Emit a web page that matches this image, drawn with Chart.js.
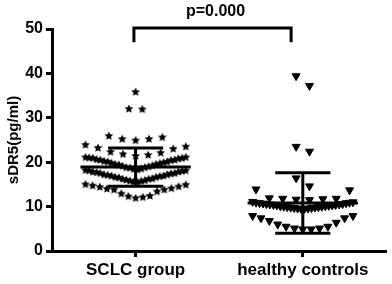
<!DOCTYPE html>
<html>
<head>
<meta charset="utf-8">
<script src="https://cdn.jsdelivr.net/npm/chart.js@4.4.1/dist/chart.umd.min.js"></script>
<style>
  html, body { margin: 0; padding: 0; background: #fff; }
  #wrap { width: 392px; height: 284px; }
</style>
</head>
<body>
<div id="wrap"><canvas id="myChart"></canvas></div>
<script>
const categories = ['SCLC group', 'healthy controls'];
const yTicks = [0, 10, 20, 30, 40, 50];

// sDR5 (pg/ml)
const sclcValues = [
  35.8, 32.0, 31.9,
  24.9, 25.2, 25.2, 25.6, 25.9,
  21.4, 21.6, 21.8, 22.1, 22.3, 23.0, 23.2, 23.5, 23.9,
  18.3, 18.4, 18.5, 18.7, 18.8, 18.8, 19.0, 19.1, 19.2, 19.4, 19.5, 19.5, 19.7, 19.8,
  19.9, 20.1, 20.1, 20.2, 20.4, 20.5, 20.5, 20.6, 20.8, 20.9, 20.9, 21.0, 21.1, 21.1,
  15.5, 15.6, 15.7, 15.8, 15.9, 16.0, 16.2, 16.2, 16.3, 16.5, 16.6, 16.6, 16.8, 16.9,
  16.9, 17.1, 17.2, 17.2, 17.4, 17.5, 17.5, 17.7, 17.8, 17.8, 18.0, 18.1, 18.1, 18.2,
  11.9, 12.1, 12.3, 12.4, 12.9, 13.4, 13.8, 13.8, 14.0, 14.1, 14.4, 14.5, 14.7, 14.9, 15.0
];
const healthyValues = [
  39.4, 37.2,
  22.4, 23.5,
  16.4, 14.6,
  11.5, 11.6, 11.7, 11.8, 11.8, 11.9, 13.7, 13.9,
  9.5, 9.5, 9.6, 9.6, 9.7, 9.7, 9.8, 9.8, 9.9, 9.9, 10.0, 10.0, 10.1, 10.1, 10.2,
  10.3, 10.3, 10.4, 10.4, 10.5, 10.5, 10.6, 10.6, 10.7, 10.8, 10.8, 10.9, 10.9, 11.0, 11.1,
  4.9, 4.9, 5.1, 5.1, 5.5, 5.5, 6.0, 6.4, 6.8, 7.4, 7.4, 7.9, 7.9
];

// mean and SD as drawn
const groupMeans = [18.9, 10.8];
const groupSDs = [4.3, 6.8];
const pText = 'p=0.000';

// value bands for laying dots side by side
const sclcBands = [11.5, 15.3, 18.25, 21.2, 24.4, 28, 34, 40];
const healthyBands = [4, 8.5, 11.2, 14.3, 19, 30, 45];

const FONT = '"Liberation Sans", Arial, sans-serif';

function spread(values, edges, center) {
  const pts = [];
  for (let b = 0; b < edges.length - 1; b++) {
    const band = values.filter(v => v >= edges[b] && v < edges[b + 1]).sort((a, c) => a - c);
    const n = band.length;
    if (!n) continue;
    const step = n > 1 ? Math.min(0.08, 0.6 / (n - 1)) : 0;
    const slots = [];
    for (let i = 0; i < n; i++) slots.push((i - (n - 1) / 2) * step);
    // lowest values in the middle, higher ones pushed outward
    slots.sort((a, c) => Math.abs(a) - Math.abs(c) || c - a);
    band.forEach((v, i) => pts.push({ x: center + slots[i], y: v }));
  }
  return pts;
}

function makeStar(r) {
  const c = document.createElement('canvas');
  const s = Math.ceil(r * 2) + 2;
  c.width = c.height = s;
  const g = c.getContext('2d');
  g.beginPath();
  for (let i = 0; i < 10; i++) {
    const rad = i % 2 ? r * 0.48 : r;
    const a = -Math.PI / 2 + i * Math.PI / 5;
    g.lineTo(s / 2 + rad * Math.cos(a), s / 2 + rad * Math.sin(a));
  }
  g.closePath();
  g.fillStyle = '#000';
  g.fill();
  return c;
}

const errorBars = {
  id: 'errorBars',
  afterDatasetsDraw(chart) {
    const { ctx, scales: { x, y } } = chart;
    const seg = (x1, y1, x2, y2) => {
      ctx.beginPath();
      ctx.moveTo(x1, y1);
      ctx.lineTo(x2, y2);
      ctx.stroke();
    };
    ctx.save();
    ctx.strokeStyle = '#000';
    ctx.lineWidth = 3;
    groupMeans.forEach((m, i) => {
      const c = i + 1;
      const sd = groupSDs[i];
      const ym = y.getPixelForValue(m);
      const yt = y.getPixelForValue(m + sd);
      const yb = y.getPixelForValue(m - sd);
      seg(x.getPixelForValue(c - 0.33), ym, x.getPixelForValue(c + 0.33), ym);
      seg(x.getPixelForValue(c), yt, x.getPixelForValue(c), yb);
      seg(x.getPixelForValue(c - 0.165), yt, x.getPixelForValue(c + 0.165), yt);
      seg(x.getPixelForValue(c - 0.165), yb, x.getPixelForValue(c + 0.165), yb);
    });

    // significance bracket
    const bx1 = x.getPixelForValue(0.99);
    const bx2 = x.getPixelForValue(1.93);
    const by = y.getPixelForValue(50.25);
    const leg = y.getPixelForValue(47);
    ctx.beginPath();
    ctx.moveTo(bx1, leg);
    ctx.lineTo(bx1, by);
    ctx.lineTo(bx2, by);
    ctx.lineTo(bx2, leg);
    ctx.stroke();
    ctx.fillStyle = '#000';
    ctx.font = 'bold 16px ' + FONT;
    ctx.textAlign = 'center';
    ctx.textBaseline = 'alphabetic';
    ctx.fillText(pText, (bx1 + bx2) / 2 + 3, by - 12);
    ctx.restore();
  }
};

const ctx = document.getElementById('myChart').getContext('2d');

new Chart(ctx, {
  type: 'scatter',
  data: {
    datasets: [
      {
        label: categories[0],
        data: spread(sclcValues, sclcBands, 1),
        pointStyle: makeStar(4.6),
        pointRadius: 4,
        backgroundColor: '#000',
        borderColor: '#000'
      },
      {
        label: categories[1],
        data: spread(healthyValues, healthyBands, 2),
        pointStyle: 'triangle',
        rotation: 180,
        pointRadius: 4.6,
        borderWidth: 1,
        backgroundColor: '#000',
        borderColor: '#000'
      }
    ]
  },
  options: {
    responsive: true,
    maintainAspectRatio: false,
    animation: false,
    events: [],
    layout: { padding: { top: 29, right: 4, left: 0, bottom: 0 } },
    plugins: {
      legend: { display: false },
      tooltip: { enabled: false }
    },
    scales: {
      x: {
        type: 'linear',
        min: 0.5,
        max: 2.5,
        afterBuildTicks: (scale) => {
          scale.ticks = categories.map((c, i) => ({ value: i + 1 }));
        },
        afterFit: (scale) => { scale.height = 33; },
        ticks: {
          autoSkip: false,
          maxRotation: 0,
          padding: 3,
          color: '#000',
          font: { family: FONT, size: 17, weight: 'bold' },
          callback: (v) => categories[v - 1]
        },
        grid: {
          drawOnChartArea: false,
          drawTicks: true,
          tickLength: 6,
          tickWidth: 3,
          tickColor: '#000'
        },
        border: { display: true, width: 3, color: '#000' }
      },
      y: {
        min: 0,
        max: 50,
        afterBuildTicks: (scale) => {
          scale.ticks = yTicks.map(v => ({ value: v }));
        },
        afterFit: (scale) => { scale.width = 52; },
        ticks: {
          padding: 3,
          color: '#000',
          font: { family: FONT, size: 16, weight: 'bold' }
        },
        grid: {
          drawOnChartArea: false,
          drawTicks: true,
          tickLength: 6,
          tickWidth: 3,
          tickColor: '#000'
        },
        border: { display: true, width: 3, color: '#000' },
        title: {
          display: true,
          text: 'sDR5(pg/ml)',
          color: '#000',
          font: { family: FONT, size: 15, weight: 'bold' },
          padding: { top: 5, bottom: 0 }
        }
      }
    }
  },
  plugins: [errorBars]
});
</script>
</body>
</html>
